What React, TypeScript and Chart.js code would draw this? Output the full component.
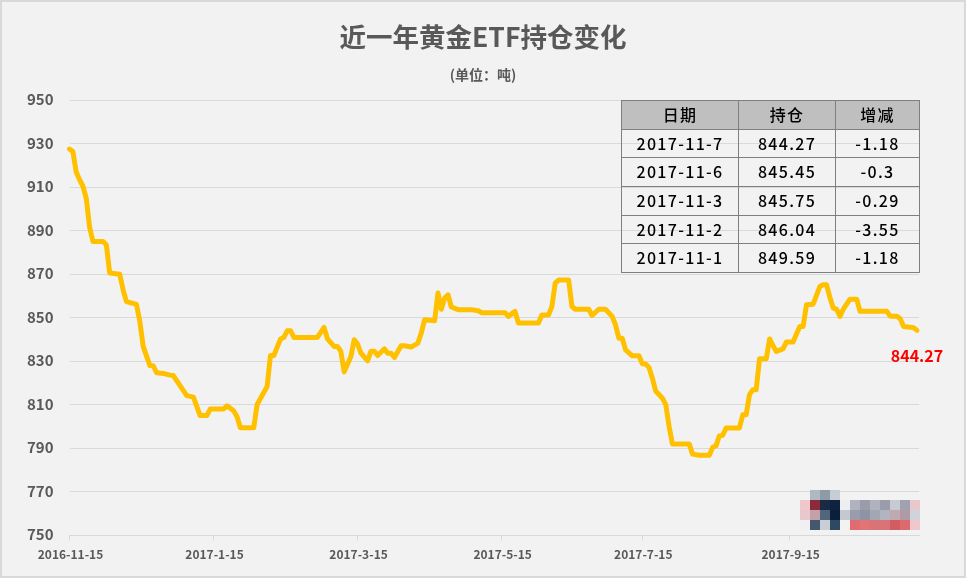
import React, { useEffect, useRef } from "react";
import Chart from "chart.js/auto";

const tradingDay = [
  0, 1, 2, 3, 4, 5, 6, 7, 10, 11, 12, 15, 16, 17, 20, 21, 22, 24, 25, 26,
  28, 30, 31, 35, 37, 39, 41, 42, 46, 47, 49, 50, 51, 55, 56, 57, 59, 60, 61, 62,
  63, 64, 65, 66, 67, 74, 76, 77, 79, 80, 81, 82, 84, 85, 86, 87, 89, 90, 91, 92,
  94, 95, 96, 97, 99, 100, 102, 104, 105, 106, 109, 110, 111, 112, 113, 114, 116, 120, 122, 123,
  130, 131, 133, 134, 140, 141, 143, 144, 145, 146, 149, 150, 151, 155, 156, 158, 160, 162, 163, 164,
  165, 166, 168, 170, 171, 172, 173, 174, 175, 177, 178, 179, 180, 185, 186, 188, 191, 192, 193, 194,
  195, 196, 200, 201, 202, 203, 204, 205, 206, 208, 209, 210, 211, 213, 214, 216, 218, 219, 220, 222,
  224, 225, 226, 227, 228, 229, 230, 231, 233, 235, 236, 244, 245, 247, 248, 249, 251, 252, 253,
];

const holdings = [
  927.6, 926.5, 917, 913.5, 910.5, 905, 891.7, 885.1, 885.1, 883.6, 870.6, 870.1, 862.9, 857.5, 856.2, 848.3, 836.9, 828.1, 828, 824.8,
  824.5, 823.7, 823.5, 814.3, 813.6, 805.1, 805.1, 808.1, 808.1, 809.6, 807.3, 804.7, 799.5, 799.5, 810.1, 813, 818.5, 832.7, 832.7, 836.6,
  840.3, 841, 844.1, 844.1, 841, 841, 845.6, 840.4, 836.9, 836.9, 834.6, 825.2, 832.3, 840, 838, 833.8, 830.3, 834.7, 834.7, 832.7,
  835.8, 833.8, 833.8, 831.8, 837.2, 837.2, 836.6, 838.4, 843, 849.1, 848.7, 861.4, 854, 859.1, 860.6, 855, 853.8, 853.8, 853.3, 852.4,
  852.4, 850.7, 853, 847.6, 847.6, 851.3, 851.3, 855.2, 866, 867.4, 867.4, 855.2, 854, 854, 851.1, 854, 854, 850.7, 846.8, 840.7,
  840.7, 835.3, 832.6, 832.6, 828.9, 828.8, 827.2, 822.3, 816.4, 813.1, 810.1, 800.1, 792, 792.1, 787.4, 786.9, 786.9, 790.5, 791.2, 795.8,
  796.1, 799.4, 799.4, 805.5, 805.5, 814.7, 817, 817, 831.2, 831.2, 840.3, 837.3, 834.6, 835.8, 838.9, 838.9, 846, 846, 856, 856.3,
  864.4, 865.2, 865.2, 859.4, 854.5, 854, 850.7, 854, 858.6, 858.6, 853, 853, 850.8, 850.8, 849.59, 846.04, 845.75, 845.45, 844.27,
];

const tickDays = [0, 43, 86, 129, 171, 215];
const tickDates = ["2016-11-15", "2017-1-15", "2017-3-15", "2017-5-15", "2017-7-15", "2017-9-15"];

const tableHeader = ["日期", "持仓", "增减"];
const tableDates = ["2017-11-7", "2017-11-6", "2017-11-3", "2017-11-2", "2017-11-1"];
const tableHoldings = ["844.27", "845.45", "845.75", "846.04", "849.59"];
const tableChanges = ["-1.18", "-0.3", "-0.29", "-3.55", "-1.18"];

// pixelated watermark in the bottom right corner, rows of 10px cells
const mosaic = [
  ["", "#b0b8c2", "#8f9aa8", "#c8cdd3"],
  ["#f0c8cc", "#8b2a3a", "#1a2a45", "#0f2240", "#eceef0", "#b0b2c0", "#9a9cac", "#b0b2c0", "#9a9cac", "#c8cad2", "#a0a2b2", "#e8c8cc"],
  ["#e8c8cc", "#c4a0a8", "#50667a", "#0a1f3a", "#c4c9d0", "#9a9cac", "#8f93a3", "#a4a6b4", "#b2b4c0", "#c0aab2", "#b09aa6", "#d2d2da"],
  ["#f0f0f2", "#43586c", "#c8ced4", "#2f4a60", "", "#e06c70", "#e27478", "#d87478", "#d87478", "#d25c60", "#da6a6c", "#eec8ca"],
];

const fontFamily = "'Noto Sans CJK SC', 'Noto Sans', sans-serif";
const textColor = "#595959";
const gridColor = "#d9d9d9";

const extras = {
  id: "extras",
  afterDatasetsDraw(chart: Chart) {
    const { ctx } = chart;
    ctx.save();
    mosaic.forEach((row, r) =>
      row.forEach((color, c) => {
        if (!color) return;
        ctx.fillStyle = color;
        ctx.fillRect(800 + c * 10, 490 + r * 10, 10, 10);
      })
    );
    const points = chart.getDatasetMeta(0).data;
    const last = points[points.length - 1];
    ctx.fillStyle = "#ff0000";
    ctx.font = `bold 16px ${fontFamily}`;
    ctx.textAlign = "center";
    ctx.textBaseline = "middle";
    ctx.fillText(holdings[holdings.length - 1].toFixed(2), last.x, last.y + 26);
    ctx.restore();
  },
};

const cellBorder = "1px solid #7f7f7f";
const columnWidths = [117, 97, 84];
const rowHeights = [29, 28, 29, 29, 28, 29];

const HoldingsTable: React.FC = () => {
  const cell = (text: string, c: number, r: number) => (
    <td
      key={c}
      style={{
        width: columnWidths[c],
        height: rowHeights[r],
        padding: "0 0 2px 0",
        border: cellBorder,
        boxSizing: "border-box",
        textAlign: "center",
        lineHeight: 1,
        whiteSpace: "nowrap",
      }}
    >
      {text}
    </td>
  );
  return (
    <table
      style={{
        position: "absolute",
        left: 621,
        top: 100,
        width: 298,
        tableLayout: "fixed",
        borderCollapse: "collapse",
        fontFamily,
        fontSize: 16,
        fontWeight: 500,
        letterSpacing: 1.3,
        color: "#000000",
      }}
    >
      <tbody>
        <tr style={{ background: "#bfbfbf" }}>{tableHeader.map((h, c) => cell(h, c, 0))}</tr>
        {tableDates.map((d, i) => (
          <tr key={d}>
            {cell(d, 0, i + 1)}
            {cell(tableHoldings[i], 1, i + 1)}
            {cell(tableChanges[i], 2, i + 1)}
          </tr>
        ))}
      </tbody>
    </table>
  );
};

const App: React.FC = () => {
  const canvas = useRef<HTMLCanvasElement>(null);

  useEffect(() => {
    const chart = new Chart(canvas.current!.getContext("2d")!, {
      type: "line",
      data: {
        datasets: [
          {
            data: tradingDay.map((x, i) => ({ x, y: holdings[i] })),
            yAxisID: "y",
            borderColor: "#ffc000",
            borderWidth: 5,
            pointRadius: 0,
            tension: 0,
            borderJoinStyle: "round",
            borderCapStyle: "round",
            clip: false,
          },
        ],
      },
      options: {
        responsive: false,
        animation: false,
        plugins: {
          legend: { display: false },
          tooltip: { enabled: false },
          title: {
            display: true,
            text: "近一年黄金ETF持仓变化",
            color: textColor,
            font: { family: fontFamily, size: 26.5, weight: "bold" },
            padding: { top: 21, bottom: 13.6 },
          },
          subtitle: {
            display: true,
            text: "(单位\uFF1A吨)",
            color: textColor,
            font: { family: fontFamily, size: 14, weight: "bold" },
            padding: { top: 0, bottom: 17.1 },
          },
        },
        scales: {
          x: {
            type: "linear",
            min: 0,
            max: 253.6,
            afterBuildTicks: scale => {
              scale.ticks = tickDays.map(value => ({ value }));
            },
            afterFit: scale => {
              scale.height = 42.5;
            },
            grid: { drawOnChartArea: false, color: gridColor, tickLength: 5 },
            border: { color: gridColor },
            ticks: {
              autoSkip: false,
              maxRotation: 0,
              padding: 7,
              labelOffset: 1,
              color: textColor,
              font: { family: fontFamily, size: 12, weight: "bold" },
              callback: value => tickDates[tickDays.indexOf(Number(value))],
            },
          },
          y: {
            min: 750,
            max: 950,
            afterFit: scale => {
              scale.width = 69.5;
            },
            grid: { color: gridColor, drawTicks: false },
            border: { display: false },
            ticks: {
              stepSize: 20,
              padding: 16,
              labelOffset: -1,
              color: textColor,
              font: { family: fontFamily, size: 15, weight: "bold" },
            },
          },
          // empty axis, only holds the right margin so the title stays centred on the page
          gutter: {
            position: "right",
            afterFit: scale => {
              scale.width = 47;
            },
            grid: { display: false },
            border: { display: false },
            ticks: { display: false },
          },
        },
      },
      plugins: [extras],
    });

    return () => {
      chart.destroy();
    };
  }, []);

  return (
    <div
      style={{
        position: "fixed",
        left: 0,
        top: 0,
        width: 966,
        height: 578,
        boxSizing: "border-box",
        background: "#f2f2f2",
        overflow: "hidden",
      }}
    >
      <canvas ref={canvas} width={966} height={578} style={{ display: "block" }} />
      <HoldingsTable />
      <div style={{ position: "absolute", inset: 0, border: "2px solid #d9d9d9", pointerEvents: "none" }} />
    </div>
  );
};

export default App;
